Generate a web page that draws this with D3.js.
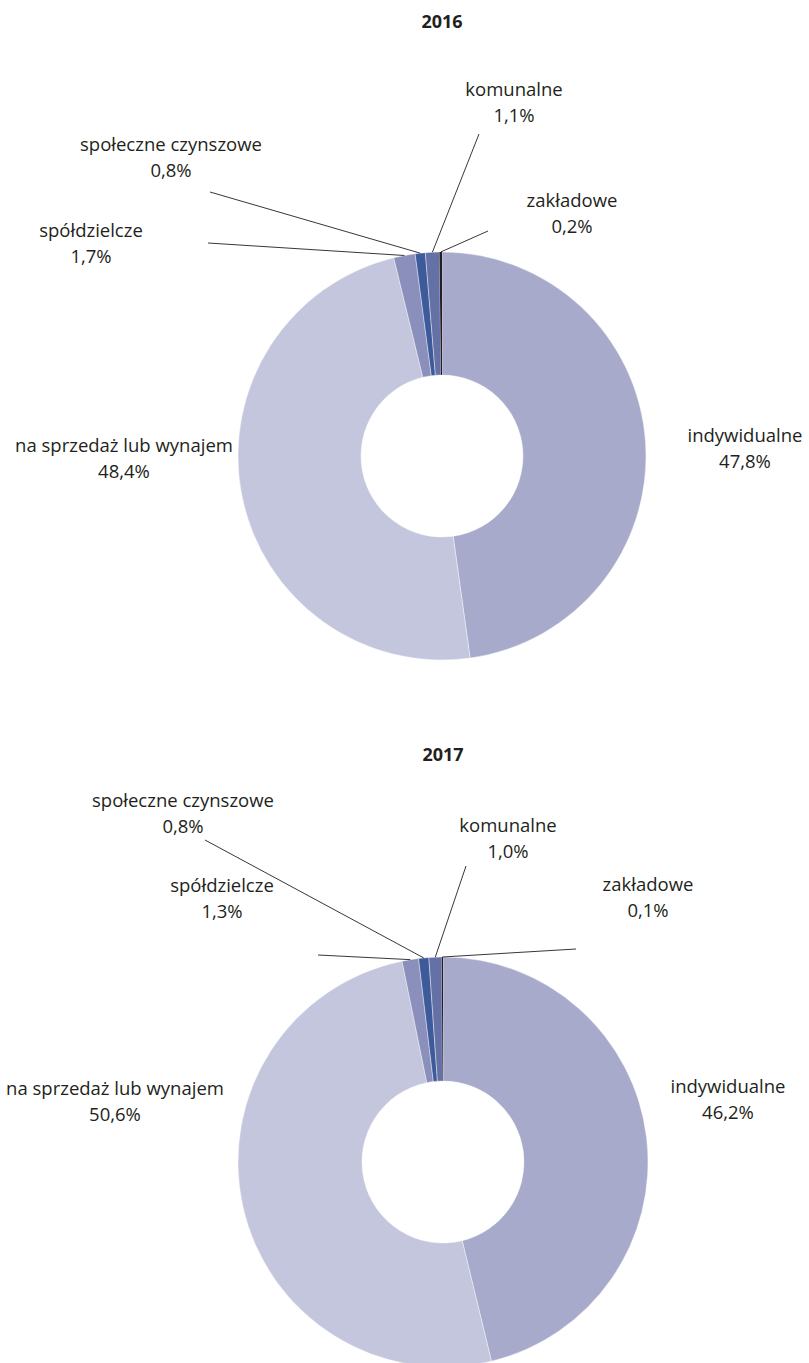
<!DOCTYPE html>
<html>
<head>
<meta charset="utf-8">
<script src="https://cdn.jsdelivr.net/npm/d3@7"></script>
<style>
  html, body { margin: 0; padding: 0; background: #fff; }
  svg { display: block; }
  text { font-family: "Open Sans", "Noto Sans", sans-serif; fill: #231f20; }
</style>
</head>
<body>
<svg id="chart" width="809" height="1363"></svg>
<script>
// ---- data ----
const categories = ["indywidualne", "na sprzedaż lub wynajem", "spółdzielcze", "społeczne czynszowe", "komunalne", "zakładowe"];
const years = ["2016", "2017"];
const values2016 = [47.8, 48.4, 1.7, 0.8, 1.1, 0.2];
const values2017 = [46.2, 50.6, 1.3, 0.8, 1.0, 0.1];
const seriesValues = [values2016, values2017];

// ---- styles / layout ----
const colors = ["#a7aaca", "#c4c6dd", "#8a8fbb", "#3d5a9a", "#6571a6", "#231f20"];
const layouts = [
  { cx: 442, cy: 456, R: 204, r: 81, titleY: 28,
    labels: {
      "indywidualne": { x: 745, y: 442 },
      "na sprzedaż lub wynajem": { x: 124, y: 452 },
      "spółdzielcze": { x: 91, y: 237, lx: 208, ly: 243 },
      "społeczne czynszowe": { x: 171, y: 151, lx: 210, ly: 192 },
      "komunalne": { x: 514, y: 96, lx: 479, ly: 134 },
      "zakładowe": { x: 572, y: 207, lx: 488, ly: 231 }
    }},
  { cx: 443, cy: 1162, R: 205, r: 81, titleY: 761,
    labels: {
      "indywidualne": { x: 728, y: 1093 },
      "na sprzedaż lub wynajem": { x: 115, y: 1095 },
      "spółdzielcze": { x: 222, y: 892, lx: 318, ly: 955 },
      "społeczne czynszowe": { x: 183, y: 807, lx: 205, ly: 840 },
      "komunalne": { x: 508, y: 832, lx: 466, ly: 866 },
      "zakładowe": { x: 648, y: 891, lx: 576, ly: 949 }
    }}
];

const svg = d3.select("#chart");
const fmt = v => d3.format(".1f")(v).replace(".", ",") + "%";

seriesValues.forEach((vals, i) => {
  const L = layouts[i];
  const data = categories.map((c, k) => ({ name: c, value: vals[k], color: colors[k] }));
  const pie = d3.pie().sort(null).value(d => d.value);
  const arcs = pie(data);
  const arc = d3.arc().innerRadius(L.r).outerRadius(L.R);
  const g = svg.append("g").attr("transform", `translate(${L.cx},${L.cy})`);

  g.selectAll("path").data(arcs).join("path")
    .attr("d", arc)
    .attr("fill", d => d.data.color)
    .attr("stroke", "#ffffff")
    .attr("stroke-width", d => d.data.value < 0.5 ? 0 : 0.4);

  svg.append("text")
    .attr("x", L.cx).attr("y", L.titleY)
    .attr("text-anchor", "middle")
    .style("font-weight", "bold").style("font-size", "18px")
    .text(years[i]);

  arcs.forEach(a => {
    const lab = L.labels[a.data.name];
    if (lab.lx !== undefined) {
      const mid = (a.startAngle + a.endAngle) / 2;
      const px = L.cx + L.R * Math.sin(mid);
      const py = L.cy - L.R * Math.cos(mid);
      svg.append("line")
        .attr("x1", px).attr("y1", py)
        .attr("x2", lab.lx).attr("y2", lab.ly)
        .attr("stroke", "#231f20").attr("stroke-width", 0.9);
    }
    const t = svg.append("text")
      .attr("text-anchor", "middle")
      .style("font-size", "18.5px");
    t.append("tspan").attr("x", lab.x).attr("y", lab.y).text(a.data.name);
    t.append("tspan").attr("x", lab.x).attr("y", lab.y + 26).text(fmt(a.data.value));
  });
});
</script>
</body>
</html>
